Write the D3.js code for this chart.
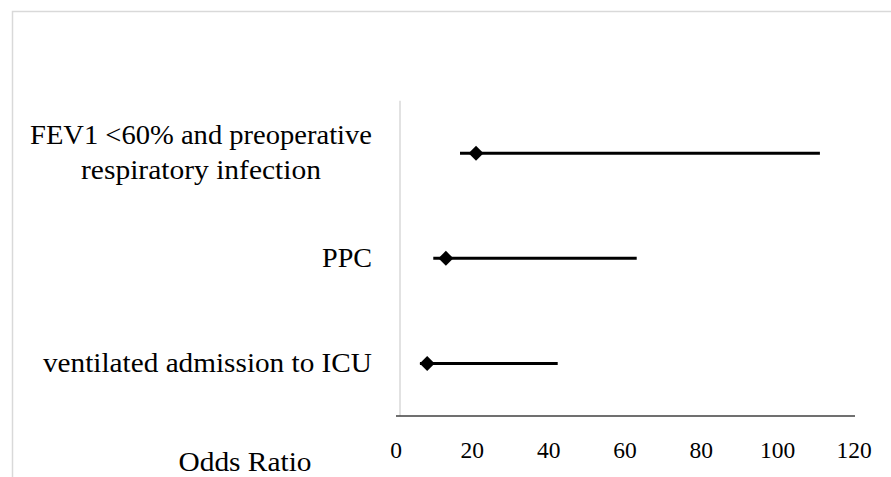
<!DOCTYPE html>
<html>
<head>
<meta charset="utf-8">
<script src="https://cdn.jsdelivr.net/npm/d3@7"></script>
<style>
  html, body { margin: 0; padding: 0; background: #fff; }
  svg { display: block; }
  text { font-family: "Palatino Linotype", "Book Antiqua", Palatino, "Liberation Serif", serif; fill: #000; }
</style>
</head>
<body>
<svg id="chart" width="891" height="477"></svg>
<script>
// ---- data ----
const categories = ["FEV1 <60% and preoperative respiratory infection", "PPC", "ventilated admission to ICU"];
const categoryLines = [["FEV1 <60% and preoperative", "respiratory infection"], ["PPC"], ["ventilated admission to ICU"]];
const oddsRatio = [21.1, 13.2, 8.3];
const ciLow = [16.9, 9.9, 6.4];
const ciHigh = [111.2, 63.2, 42.5];
const xTicks = [0, 20, 40, 60, 80, 100, 120];
const xTitle = "Odds Ratio";

// ---- layout ----
const W = 891, H = 477;
const svg = d3.select("#chart");

const x = d3.scaleLinear().domain([0, 120]).range([395.5, 853.5]);
const y = d3.scaleBand().domain(categories).range([100.7, 416]).padding(0);

// outer frame (only top/left edges visible)
svg.append("path")
  .attr("d", `M12.5,${H} L12.5,11.5 L${W},11.5`)
  .attr("fill", "none").attr("stroke", "#d9d9d9").attr("stroke-width", 1.5);

// vertical axis line
svg.append("line")
  .attr("x1", 400).attr("x2", 400)
  .attr("y1", y.range()[0]).attr("y2", y.range()[1])
  .attr("stroke", "#d9d9d9").attr("stroke-width", 1.5);

// horizontal axis
svg.append("line")
  .attr("x1", x(0) + 0.5).attr("x2", x(120) + 1.5)
  .attr("y1", y.range()[1]).attr("y2", y.range()[1])
  .attr("stroke", "#404040").attr("stroke-width", 1.6);

const xAxis = d3.axisBottom(x).tickValues(xTicks).tickSize(0).tickPadding(0).tickFormat(d3.format("d"));
const gx = svg.append("g").attr("transform", `translate(0,${y.range()[1]})`).call(xAxis);
gx.select(".domain").remove();
gx.selectAll("text")
  .attr("dy", null).attr("y", 42)
  .style("font-size", "23.5px")
  .style("font-family", "\"Palatino Linotype\", \"Book Antiqua\", Palatino, \"Liberation Serif\", serif")
  .attr("fill", "#000");

// category labels
const labelWidths = [[342, 240], [50], [329]];
const labelRight = 372;
categories.forEach((c, i) => {
  const lines = categoryLines[i];
  const cy = y(c) + y.bandwidth() / 2;
  const lh = 35;
  const blockW = d3.max(labelWidths[i]);
  const cx = labelRight - blockW / 2;
  lines.forEach((ln, j) => {
    const by = cy + 8.5 + (j - (lines.length - 1) / 2) * lh;
    svg.append("text")
      .attr("x", cx).attr("y", by)
      .attr("text-anchor", "middle")
      .attr("textLength", labelWidths[i][j])
      .attr("lengthAdjust", "spacingAndGlyphs")
      .style("font-size", "27px")
      .text(ln);
  });
});

// axis title
svg.append("text")
  .attr("x", 245).attr("y", 470.5)
  .attr("text-anchor", "middle")
  .attr("textLength", 133)
  .attr("lengthAdjust", "spacingAndGlyphs")
  .style("font-size", "27px")
  .text(xTitle);

// CI lines
const rows = categories.map((c, i) => ({ c, or: oddsRatio[i], lo: ciLow[i], hi: ciHigh[i] }));
svg.append("g").selectAll("line").data(rows).join("line")
  .attr("x1", d => x(d.lo)).attr("x2", d => x(d.hi))
  .attr("y1", d => y(d.c) + y.bandwidth() / 2)
  .attr("y2", d => y(d.c) + y.bandwidth() / 2)
  .attr("stroke", "#000").attr("stroke-width", 3);

// diamonds
const diamond = d3.symbol().type(d3.symbolSquare).size(112);
svg.append("g").selectAll("path").data(rows).join("path")
  .attr("d", diamond)
  .attr("transform", d => `translate(${x(d.or)},${y(d.c) + y.bandwidth() / 2}) rotate(45)`)
  .attr("fill", "#000");
</script>
</body>
</html>
